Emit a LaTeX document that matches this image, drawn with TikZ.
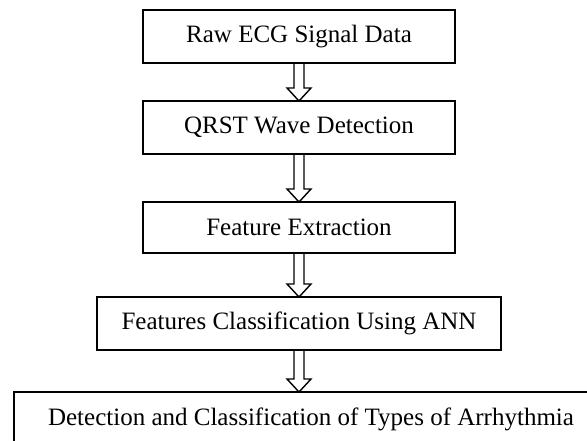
\documentclass[tikz,border=0pt]{standalone}
\usepackage{fontspec}
\setmainfont{Liberation Serif}
\usetikzlibrary{calc}

\begin{document}
\begin{tikzpicture}[
        x=0.5pt, y=0.5pt,
        stage/.style={draw=black, line width=0.9pt, inner sep=0pt, outer sep=0pt,
            minimum height=26.5pt, font=\fontsize{12.5}{15}\selectfont},
        blockarr/.style={draw=black, line width=0.7pt, line join=miter}
    ]
        \useasboundingbox (0,0) rectangle (587,440);

        % Stages
        \node[stage, minimum width=156pt] (raw) at (299,403.5) {Raw ECG Signal Data};
        \node[stage, minimum width=156pt] (qrst) at (299,312.5) {QRST Wave Detection};
        \node[stage, minimum width=156pt, minimum height=25.5pt] (feat) at (299,212.5) {Feature Extraction};
        \node[stage, minimum width=202pt] (ann) at (299,116.5) {Features Classification Using ANN};
        \node[stage, minimum width=297pt, minimum height=27pt] (result) at (311,21) {Detection and Classification of Types of Arrhythmia};

        % Block arrows
        \foreach \a/\b in {raw/qrst, qrst/feat, feat/ann, ann/result} {
            \coordinate (tip) at (\a.south |- \b.north);
            \draw[blockarr] ($(\a.south)+(-5,0)$) -- ($(tip)+(-5,13)$) -- ($(tip)+(-12,13)$)
                -- (tip) -- ($(tip)+(12,13)$) -- ($(tip)+(5,13)$) -- ($(\a.south)+(5,0)$);
        }
    \end{tikzpicture}
\end{document}
